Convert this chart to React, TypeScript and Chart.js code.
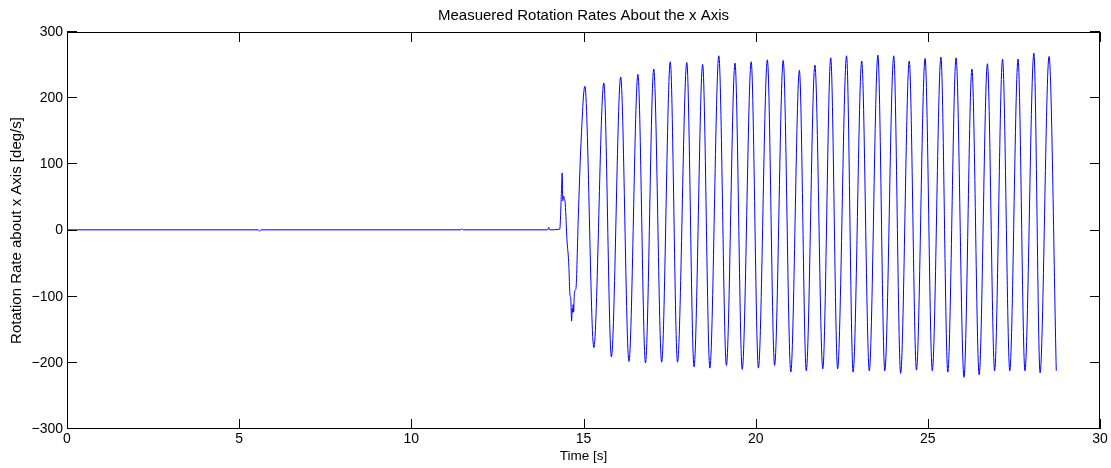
import React, { useEffect, useRef } from 'react';
import { Chart, registerables } from 'chart.js';

Chart.register(...registerables);

const TITLE = 'Measuered Rotation Rates About the x Axis';
const X_LABEL = 'Time [s]';
const Y_LABEL = 'Rotation Rate about x Axis [deg/s]';
const X_TICKS = [0, 5, 10, 15, 20, 25, 30];
const Y_TICKS = [-300, -200, -100, 0, 100, 200, 300];

// resting phase (sensor almost at zero)
const restTimes = [0, 5.55, 5.59, 5.63, 11.43, 11.47, 11.51, 13.96, 13.99, 14.02, 14.31];
const restValues = [1, 1, -1, 1, 1, 2.5, 1, 1, 5, 1, 2];

// onset of motion (noisy transient)
const onsetTimes = [14.36, 14.38, 14.4, 14.42, 14.44, 14.47, 14.52, 14.57, 14.61, 14.63, 14.645, 14.655, 14.67, 14.685, 14.7, 14.715, 14.73, 14.76, 14.78, 14.85, 14.92];
const onsetValues = [60, 87, 45, 52, 50, 40, -14, -48, -99, -102, -127, -137, -118, -124, -112, -123, -100, -90, -88, 22, 123];

// oscillation extremes (peaks and troughs)
const oscTimes = [
  15.04, 15.3, 15.59, 15.81, 16.08, 16.32, 16.58, 16.8, 17.04, 17.27,
  17.52, 17.73, 18.0, 18.21, 18.46, 18.67, 18.93, 19.15, 19.4, 19.61,
  19.87, 20.08, 20.34, 20.55, 20.8, 21.02, 21.27, 21.47, 21.72, 21.95,
  22.18, 22.38, 22.64, 22.83, 23.08, 23.3, 23.55, 23.75, 24.01, 24.21,
  24.46, 24.67, 24.92, 25.13, 25.38, 25.58, 25.82, 26.05, 26.28, 26.49,
  26.73, 26.94, 27.17, 27.38, 27.62, 27.82, 28.08, 28.26, 28.52, 28.73,
];
const oscValues = [
  218, -177, 223, -191, 232, -198, 236, -200, 244, -199,
  255, -199, 254, -206, 251, -208, 264, -204, 253, -210,
  255, -208, 258, -204, 257, -214, 242, -212, 250, -209,
  261, -209, 264, -214, 256, -212, 265, -212, 264, -216,
  256, -211, 260, -212, 262, -214, 261, -222, 244, -218,
  252, -212, 259, -212, 259, -212, 268, -215, 263, -212,
];

const FONT = "'Liberation Sans', Arial, Helvetica, sans-serif";

const boxPlugin = {
  id: 'matlabBox',
  afterDraw(chart: any) {
    const { ctx, chartArea, scales } = chart;
    const { left, right, top, bottom } = chartArea;
    const xs = scales.x;
    const ys = scales.y;
    const L = 10;
    ctx.save();
    ctx.strokeStyle = '#000';
    ctx.lineWidth = 1;
    ctx.beginPath();
    X_TICKS.forEach((v) => {
      const px = Math.round(xs.getPixelForValue(v)) + 0.5;
      ctx.moveTo(px, bottom);
      ctx.lineTo(px, bottom - L);
      ctx.moveTo(px, top);
      ctx.lineTo(px, top + L);
    });
    Y_TICKS.forEach((v) => {
      const py = Math.round(ys.getPixelForValue(v)) - 0.5;
      ctx.moveTo(left, py);
      ctx.lineTo(left + L, py);
      ctx.moveTo(right, py);
      ctx.lineTo(right - L, py);
    });
    ctx.stroke();
    ctx.strokeRect(left + 0.5, top + 0.5, right - left - 1, bottom - top - 1);
    ctx.restore();
  },
};

export default function App() {
  const ref = useRef<HTMLCanvasElement | null>(null);

  useEffect(() => {
    if (!ref.current) return;
    const points = [
      ...restTimes.map((t, i) => ({ x: t, y: restValues[i] })),
      ...onsetTimes.map((t, i) => ({ x: t, y: onsetValues[i] })),
      ...oscTimes.map((t, i) => ({ x: t, y: oscValues[i] })),
    ];
    const chart = new Chart(ref.current, {
      type: 'line',
      data: {
        datasets: [
          {
            data: points,
            borderColor: '#0000ff',
            borderWidth: 1,
            pointRadius: 0,
            fill: false,
            cubicInterpolationMode: 'monotone',
          },
        ],
      },
      options: {
        responsive: false,
        animation: false,
        layout: { padding: { left: 0, right: 11, top: 0, bottom: 0 } },
        plugins: {
          legend: { display: false },
          tooltip: { enabled: false },
          title: {
            display: true,
            text: TITLE,
            fullSize: false,
            color: '#000',
            font: { family: FONT, size: 15, weight: 'normal' },
            padding: { top: 7, bottom: 7 },
          },
        },
        scales: {
          x: {
            type: 'linear',
            min: 0,
            max: 30,
            afterFit: (s: any) => {
              s.height = 39;
            },
            ticks: {
              stepSize: 5,
              autoSkip: false,
              maxRotation: 0,
              padding: 2,
              color: '#000',
              font: { family: FONT, size: 14 },
            },
            grid: { display: false, drawTicks: false },
            border: { display: false },
            title: {
              display: true,
              text: X_LABEL,
              color: '#000',
              font: { family: FONT, size: 13.5 },
              padding: { top: 0, bottom: 4 },
            },
          },
          y: {
            type: 'linear',
            min: -300,
            max: 300,
            afterFit: (s: any) => {
              s.width = 67;
            },
            ticks: {
              stepSize: 100,
              autoSkip: false,
              padding: 4,
              color: '#000',
              font: { family: FONT, size: 14 },
              callback: (v: any) => (Number(v) < 0 ? '\u2212' + Math.abs(Number(v)) : String(v)),
            },
            grid: { display: false, drawTicks: false },
            border: { display: false },
            title: {
              display: true,
              text: Y_LABEL,
              color: '#000',
              font: { family: FONT, size: 15 },
              padding: { top: 8, bottom: 0 },
            },
          },
        },
      },
      plugins: [boxPlugin],
    });
    return () => chart.destroy();
  }, []);

  return (
    <div style={{ position: 'fixed', left: 0, top: 0, width: 1111, height: 468, background: '#fff' }}>
      <canvas ref={ref} width={1111} height={468} />
    </div>
  );
}
